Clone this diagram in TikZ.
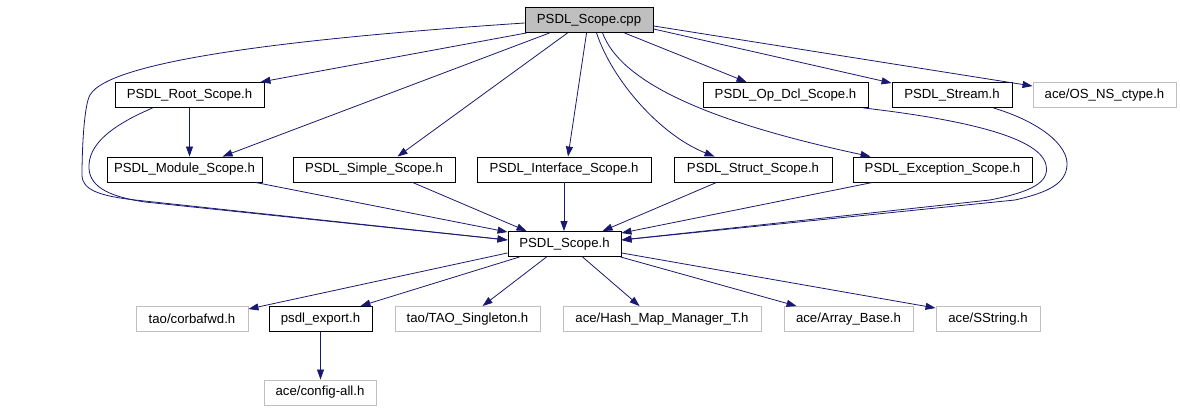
\documentclass[tikz,border=0pt]{standalone}
\usepackage{fontspec}
\setmainfont{Liberation Sans}
\usetikzlibrary{arrows.meta,calc}
\definecolor{edgec}{HTML}{191970}
\definecolor{grayb}{HTML}{BFBFBF}
\begin{document}
\begin{tikzpicture}[x=1pt,y=-1pt,
  box/.style={draw=black,line width=0.9pt,minimum height=25pt,inner sep=0pt,
    font=\fontsize{13.2}{15}\selectfont,anchor=center},
  ext/.style={box,draw=grayb},
  e/.style={draw=edgec,line width=0.8pt,-{Triangle[length=10pt,width=7pt]}}]
\useasboundingbox (0,0) rectangle (1180,411);
% row 1
\node[box,fill=grayb,minimum width=128pt] (cpp) at (589,20) {PSDL\_Scope.cpp};
% row 2
\node[box,minimum width=149pt] (root) at (189.5,95) {PSDL\_Root\_Scope.h};
\node[box,minimum width=165pt] (opdcl) at (785.5,95) {PSDL\_Op\_Dcl\_Scope.h};
\node[box,minimum width=120pt] (stream) at (952,95) {PSDL\_Stream.h};
\node[ext,minimum width=143pt] (osns) at (1104.5,95) {ace/OS\_NS\_ctype.h};
% row 3
\node[box,minimum width=155pt] (module) at (184.5,169.5) {PSDL\_Module\_Scope.h};
\node[box,minimum width=162pt] (simple) at (374,169.5) {PSDL\_Simple\_Scope.h};
\node[box,minimum width=174pt] (iface) at (564,169.5) {PSDL\_Interface\_Scope.h};
\node[box,minimum width=158pt] (struct) at (753,169.5) {PSDL\_Struct\_Scope.h};
\node[box,minimum width=179pt] (exc) at (942.5,169.5) {PSDL\_Exception\_Scope.h};
% row 4
\node[box,minimum width=113pt] (scope) at (564.5,244) {PSDL\_Scope.h};
% row 5
\node[ext,minimum width=112pt] (corba) at (192,319) {tao/corbafwd.h};
\node[box,minimum width=103pt] (pexp) at (320.5,319) {psdl\_export.h};
\node[ext,minimum width=145pt] (tao) at (467.5,319) {tao/TAO\_Singleton.h};
\node[ext,minimum width=198pt] (hash) at (662,319) {ace/Hash\_Map\_Manager\_T.h};
\node[ext,minimum width=129pt] (array) at (848.5,319) {ace/Array\_Base.h};
\node[ext,minimum width=104pt] (sstr) at (988,319) {ace/SString.h};
% row 6
\node[ext,minimum width=112pt] (config) at (320,392.5) {ace/config-all.h};

% edges from cpp
\draw[e] ([xshift=2pt]cpp.south west) -- ([xshift=-4pt]root.north east);
\draw[e] ([xshift=25pt]cpp.south west) -- ([xshift=116pt]module.north west);
\draw[e] ([xshift=43pt]cpp.south west) -- ([xshift=105pt]simple.north west);
\draw[e] ([xshift=62pt]cpp.south west) -- ([xshift=4pt]iface.north);
\draw[e] ([xshift=72pt]cpp.south west) .. controls (612,80) and (660,135) .. ([xshift=41pt]struct.north west);
\draw[e] ([xshift=78pt]cpp.south west) .. controls (620,80) and (700,120) .. ([xshift=18pt]exc.north west);
\draw[e] ([xshift=100pt]cpp.south west) -- ([xshift=44pt]opdcl.north west);
\draw[e] ([yshift=4pt]cpp.south east) -- ([yshift=-1pt]stream.north west);
\draw[e] ([yshift=7pt]cpp.south east) -- ([yshift=-4pt]osns.north west);
\draw[e] ([yshift=-3pt]cpp.west) .. controls (300,38) and (110,60) .. (90,95)
  .. controls (84,105) and (82,150) .. (82,175)
  .. controls (82,190) and (100,196) .. (135,200) -- ([yshift=4pt]scope.west);
% edges from row 2
\draw[e] ([xshift=38pt]root.south west) .. controls (120,122) and (90,140) .. (89,165)
  .. controls (88,185) and (105,196) .. (145,202) -- ([yshift=4pt]scope.west);
\draw[e] (root.south) -- (root.south |- module.north);
\draw[e] ([xshift=-5pt]opdcl.south east) .. controls (950,118) and (1040,135) .. (1046,165)
  .. controls (1050,183) and (1030,192) .. (990,200) -- ([yshift=4pt]scope.east);
\draw[e] ([xshift=-19pt]stream.south east) .. controls (1040,122) and (1068,145) .. (1067,165)
  .. controls (1066,183) and (1050,192) .. (1015,200) -- ([yshift=4pt]scope.east);
% edges from row 3
\draw[e] ([xshift=-7pt]module.south east) -- ([yshift=-1pt]scope.north west);
\draw[e] ([xshift=120pt]simple.south west) -- ([xshift=19pt]scope.north west);
\draw[e] (iface.south) -- (iface.south |- scope.north);
\draw[e] ([xshift=43pt]struct.south west) -- ([xshift=95pt]scope.north west);
\draw[e] ([xshift=20pt]exc.south west) -- ([yshift=-2pt]scope.north east);
% edges from scope
\draw[e] ([yshift=4pt]scope.south west) -- ([yshift=-3pt]corba.north east);
\draw[e] ([xshift=12pt]scope.south west) -- ([xshift=-12pt]pexp.north east);
\draw[e] ([xshift=39pt]scope.south west) -- ([xshift=88pt]tao.north west);
\draw[e] ([xshift=75pt]scope.south west) -- ([xshift=77pt]hash.north west);
\draw[e] ([xshift=-1pt]scope.south east) -- ([xshift=13pt]array.north west);
\draw[e] ([yshift=4pt]scope.south east) -- ([yshift=-2pt]sstr.north west);
\draw[e] (pexp.south) -- (pexp.south |- config.north);
\end{tikzpicture}
\end{document}
